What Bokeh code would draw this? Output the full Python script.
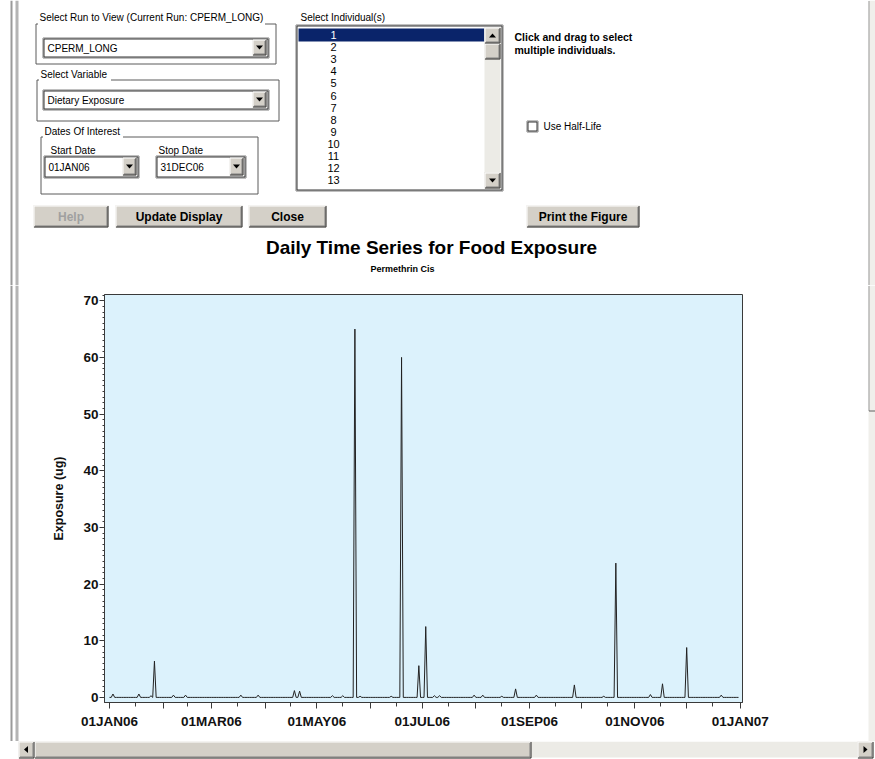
import pandas as pd
from bokeh.plotting import figure
from bokeh.layouts import column, row
from bokeh.models import (Range1d, FixedTicker, SingleIntervalTicker,
                          CustomJSTickFormatter, ColumnDataSource)
from bokeh.embed import file_html
from bokeh.resources import INLINE
from bokeh.core.properties import value

FONT = "Liberation Sans"

# ---------------- data ----------------
series_start = "2006-01-01"
series_end = "2006-12-31"

event_dates = ["2006-01-03", "2006-01-18", "2006-01-25", "2006-01-27", "2006-02-07",
               "2006-02-14", "2006-03-18", "2006-03-28", "2006-04-18", "2006-04-21",
               "2006-05-10", "2006-05-16", "2006-05-23", "2006-05-26", "2006-06-13",
               "2006-06-19", "2006-06-29", "2006-07-03", "2006-07-08", "2006-07-11",
               "2006-07-31", "2006-08-05", "2006-08-16", "2006-08-24", "2006-09-05",
               "2006-09-27", "2006-10-14", "2006-10-21", "2006-11-10", "2006-11-17",
               "2006-12-01", "2006-12-21"]
event_values = [0.6, 0.6, 0.3, 6.4, 0.4,
                0.4, 0.4, 0.4, 1.2, 1.1,
                0.3, 0.3, 65.0, 0.2, 0.2,
                60.0, 5.6, 12.5, 0.3, 0.3,
                0.4, 0.4, 0.2, 1.5, 0.4,
                2.2, 0.2, 23.7, 0.5, 2.4,
                8.8, 0.4]

month_ticks = ["2006-01-01", "2006-02-01", "2006-03-01", "2006-04-01", "2006-05-01",
               "2006-06-01", "2006-07-01", "2006-08-01", "2006-09-01", "2006-10-01",
               "2006-11-01", "2006-12-01", "2007-01-01"]
month_tick_labels = ["01JAN06", "", "01MAR06", "", "01MAY06", "", "01JUL06", "",
                     "01SEP06", "", "01NOV06", "", "01JAN07"]
mid_month_ticks = ["2006-01-16", "2006-02-15", "2006-03-16", "2006-04-16", "2006-05-16",
                   "2006-06-16", "2006-07-16", "2006-08-16", "2006-09-16", "2006-10-16",
                   "2006-11-16", "2006-12-16"]

chart_title = "Daily Time Series for Food Exposure"
chart_subtitle = "Permethrin Cis"
y_axis_label = "Exposure (ug)"

run_name = "CPERM_LONG"
variable_name = "Dietary Exposure"
start_date = "01JAN06"
stop_date = "31DEC06"
individuals = ["1", "2", "3", "4", "5", "6", "7", "8", "9", "10", "11", "12", "13"]

# ---------------- helpers for the dialog decoration ----------------
class Sketch:
    def __init__(self):
        self.q, self.s, self.tri, self.tx = [], {}, [], []

    def box(self, l, t, r, b, fill):
        self.q.append((l, t, r, b, fill))

    def line(self, x0, y0, x1, y1, color):
        d = self.s.setdefault(color, ([], [], [], []))
        d[0].append(x0 + 0.5); d[1].append(y0 + 0.5)
        d[2].append(x1 + 0.5); d[3].append(y1 + 0.5)

    def rect_lines(self, l, t, r, b, tl, br):
        self.line(l, t, r, t, tl); self.line(l, t, l, b, tl)
        self.line(l, b, r, b, br); self.line(r, t, r, b, br)

    def raised(self, l, t, r, b, fill="#d4d0c8"):
        self.box(l, t, r + 1, b + 1, fill)
        self.rect_lines(l, t, r, b, "#ffffff", "#303030")
        self.line(l + 1, b - 1, r - 1, b - 1, "#808080")
        self.line(r - 1, t + 1, r - 1, b - 1, "#808080")

    def framed(self, l, t, r, b, fill="#ffffff"):
        self.box(l, t, r + 1, b + 1, fill)
        self.rect_lines(l, t, r, b, "#808080", "#808080")
        self.rect_lines(l + 1, t + 1, r - 1, b - 1, "#353535", "#353535")

    def group(self, l, t, r, b, gap0, gap1):
        c = "#5a5a5a"
        self.line(l, t, gap0, t, c); self.line(gap1, t, r, t, c)
        self.line(l, t, l, b, c); self.line(r, t, r, b, c); self.line(l, b, r, b, c)

    def arrow(self, cx, cy, d):
        if d == "down":
            self.tri.append(([cx - 3.5, cx + 3.5, cx], [cy - 2, cy - 2, cy + 2]))
        elif d == "up":
            self.tri.append(([cx - 3.5, cx + 3.5, cx], [cy + 2, cy + 2, cy - 2]))
        elif d == "left":
            self.tri.append(([cx + 2, cx + 2, cx - 2], [cy - 3.5, cy + 3.5, cy]))
        else:
            self.tri.append(([cx - 2, cx - 2, cx + 2], [cy - 3.5, cy + 3.5, cy]))

    def combo(self, l, t, r, b, label):
        self.framed(l, t, r, b)
        self.raised(r - 16, t + 2, r - 3, b - 3)
        self.arrow((r - 16 + r - 3) / 2 + 0.5, (t + b) / 2, "down")
        self.text(l + 5, (t + b) / 2 + 0.5, label, 10)

    def button(self, l, t, r, b, label, color="#000000"):
        self.raised(l, t, r, b)
        self.text((l + r) / 2 + 0.5, (t + b) / 2 + 0.5, label, 12, True, color, "center")

    def text(self, x, y, s, size, bold=False, color="#000000", align="left"):
        self.tx.append((x, y, s, size, bold, color, align))

    def window_left(self, t, b):
        self.box(10, t, 12, b, "#9a9a9a")
        self.box(15, t, 18, b, "#b4b4b4")

    def window_right(self, t, b):
        self.box(868, t, 875, b, "#f0efeb")
        if t < 410:
            self.line(868, t, 868, min(b, 410), "#9a9a9a")
        if t <= 410 <= b:
            self.line(868, 410, 875, 410, "#606060")

    def flush(self, f):
        if self.q:
            l, t, r, b, c = zip(*self.q)
            f.quad(left=list(l), right=list(r), top=list(t), bottom=list(b),
                   fill_color=list(c), line_color=None)
        for c, (x0, y0, x1, y1) in self.s.items():
            f.segment(x0=x0, y0=y0, x1=x1, y1=y1, line_color=c, line_width=1)
        if self.tri:
            xs, ys = zip(*self.tri)
            f.patches(xs=list(xs), ys=list(ys), fill_color="#000000", line_color=None)
        for (x, y, s, size, bold, color, align) in self.tx:
            f.text(x=[x], y=[y], text=[s], text_font=value(FONT),
                   text_font_size=f"{size}px",
                   text_font_style="bold" if bold else "normal",
                   text_color=color, text_align=align, text_baseline="middle")


def bare(w, h, xr, yr):
    f = figure(width=w, height=h, x_range=xr, y_range=yr, toolbar_location=None,
               output_backend="svg", x_axis_location=None, y_axis_location=None,
               min_border=0)
    f.grid.visible = False
    f.outline_line_color = None
    f.background_fill_color = "#ffffff"
    f.border_fill_color = "#ffffff"
    f.frame_align = False
    return f


# ---------------- dialog area (page coordinates) ----------------
gui = bare(875, 285, Range1d(0, 875), Range1d(285, 0))
g = Sketch()
g.window_left(0, 285)
g.window_right(0, 285)

g.group(35, 23, 275, 63, 37, 264)
g.text(39, 17, f"Select Run to View (Current Run: {run_name})", 10)
g.combo(42, 37, 268, 57, run_name)

g.group(36, 79, 278, 120, 38, 110)
g.text(40, 74, "Select Variable", 10)
g.combo(42, 89, 268, 109, variable_name)

g.group(40, 136, 257, 193, 42, 122)
g.text(44, 131, "Dates Of Interest", 10)
g.text(50, 150, "Start Date", 10)
g.text(158, 150, "Stop Date", 10)
g.combo(43, 155, 138, 177, start_date)
g.combo(155, 155, 245, 177, stop_date)

g.button(33, 205, 107, 226, "Help", "#a0a0a0")
g.button(115, 205, 241, 226, "Update Display")
g.button(248, 205, 325, 226, "Close")
g.button(526, 205, 638, 226, "Print the Figure")

g.text(300, 17, "Select Individual(s)", 10)
g.framed(295, 24, 502, 190)
g.box(298, 28, 484, 41, "#0a246a")
for i, lab in enumerate(individuals):
    g.text(333, 34.5 + 12.1 * i, lab, 11, False, "#ffffff" if i == 0 else "#000000", "center")
g.box(484, 27, 500, 188, "#ecebe6")
g.raised(484, 27, 499, 42)
g.arrow(492, 35, "up")
g.raised(484, 43, 499, 58)
g.raised(484, 172, 499, 187)
g.arrow(492, 180, "down")

g.text(514, 36, "Click and drag to select", 10.5, True)
g.text(514, 49, "multiple individuals.", 10.5, True)
g.framed(526, 120, 537, 131)
g.text(543, 126, "Use Half-Life", 10)

g.text(431, 247, chart_title, 19, True, align="center")
g.text(402, 268, chart_subtitle, 9, True, align="center")
g.flush(gui)

# ---------------- window edges beside the chart ----------------
left = bare(20, 456, Range1d(0, 20), Range1d(741, 285))
s2 = Sketch()
s2.window_left(285, 741)
s2.flush(left)

right = bare(9, 456, Range1d(866, 875), Range1d(741, 285))
s4 = Sketch()
s4.window_right(285, 741)
s4.flush(right)

# ---------------- horizontal scroll bar ----------------
bottom = bare(875, 18, Range1d(0, 875), Range1d(759, 741))
s3 = Sketch()
s3.box(18, 741, 868, 757, "#ecebe6")
s3.raised(18, 741, 33, 757)
s3.arrow(25.5, 749, "left")
s3.raised(34, 741, 530, 757)
s3.raised(857, 741, 872, 757)
s3.arrow(865, 749, "right")
s3.flush(bottom)

# ---------------- the chart ----------------
days = pd.date_range(series_start, series_end, freq="D")
events = pd.Series(event_values, index=pd.to_datetime(event_dates))
daily = events.reindex(days, fill_value=0.0)
src = ColumnDataSource(dict(date=days, exposure=daily.values))

DAY_MS = 86400000.0
t0_ms = pd.Timestamp(series_start).value / 1e6
x_range = Range1d(t0_ms - 2.9 * DAY_MS, t0_ms + 366.3 * DAY_MS)

p = figure(width=846, height=456, x_axis_type="datetime", x_range=x_range,
           y_range=Range1d(-0.9, 71.1), toolbar_location=None, output_backend="svg",
           min_border_left=84, min_border_right=124, min_border_top=9,
           min_border_bottom=39)
p.frame_align = False
p.background_fill_color = "#DCF2FC"
p.border_fill_color = "#ffffff"
p.outline_line_color = "#3a3a3a"
p.grid.visible = False

p.line(x="date", y="exposure", source=src, line_color="#222222", line_width=1)

tick_ms = [pd.Timestamp(d).value / 1e6 for d in month_ticks]
minor_ms = [pd.Timestamp(d).value / 1e6 for d in mid_month_ticks]
p.xaxis.ticker = FixedTicker(ticks=tick_ms, minor_ticks=minor_ms)
p.xaxis.formatter = CustomJSTickFormatter(
    args=dict(tick_vals=tick_ms, tick_texts=month_tick_labels),
    code="""
    for (let i = 0; i < tick_vals.length; i++) {
        if (Math.abs(tick_vals[i] - tick) < 3600000) { return tick_texts[i]; }
    }
    return "";
    """)
p.yaxis.ticker = SingleIntervalTicker(interval=10, num_minor_ticks=10)
p.yaxis.axis_label = y_axis_label

for ax in (p.xaxis, p.yaxis):
    ax.axis_line_color = "#3a3a3a"
    ax.major_tick_line_color = "#3a3a3a"
    ax.minor_tick_line_color = "#3a3a3a"
    ax.major_tick_in = 0
    ax.minor_tick_in = 0
    ax.major_label_text_font = FONT
    ax.major_label_text_font_style = "bold"
    ax.major_label_text_font_size = "13.5px"
    ax.major_label_text_color = "#111111"
    ax.axis_label_text_font = FONT
    ax.axis_label_text_font_style = "bold"
    ax.axis_label_text_font_size = "12.5px"
    ax.axis_label_text_color = "#111111"

p.xaxis.major_tick_out = 6
p.xaxis.minor_tick_out = 4
p.xaxis.major_label_standoff = 5
p.yaxis.major_tick_out = 5
p.yaxis.minor_tick_out = 2
p.yaxis.major_label_standoff = 1
p.yaxis.axis_label_standoff = 14

layout = column(gui, row(left, p, right, spacing=0), bottom, spacing=0)

open("out.html", "w").write(file_html(layout, INLINE))
